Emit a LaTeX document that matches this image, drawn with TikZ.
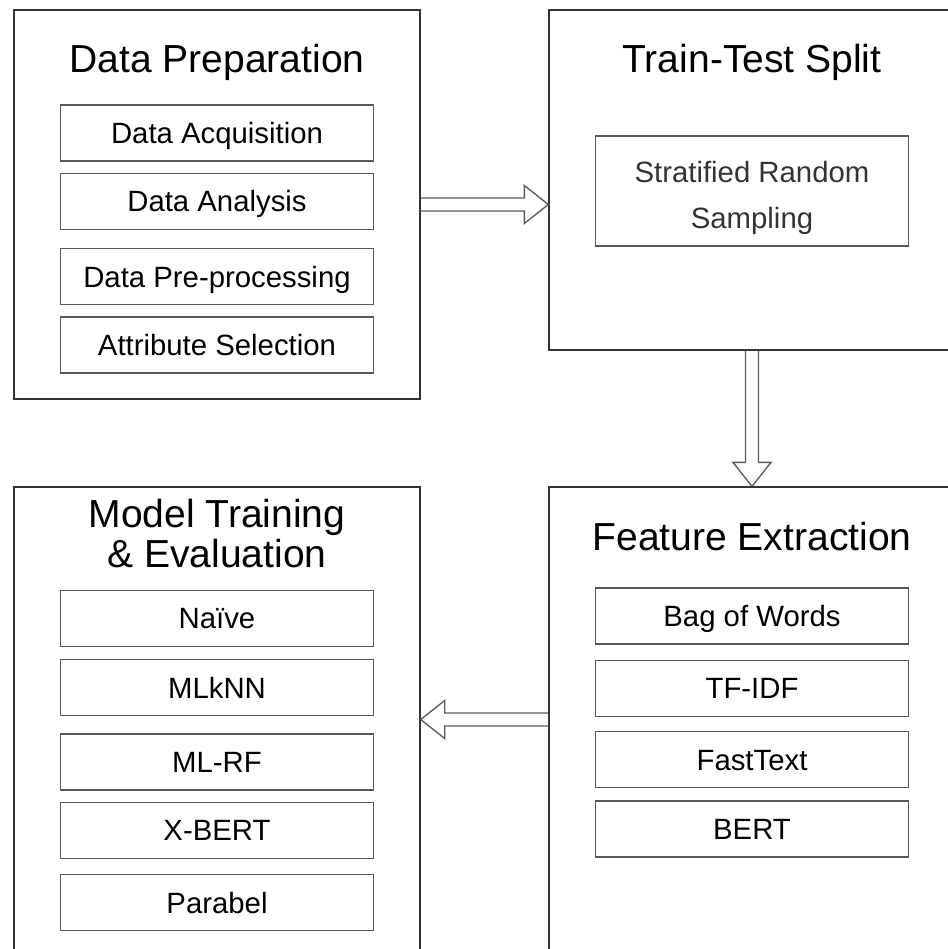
\documentclass[tikz,border=0pt]{standalone}
\usepackage{fontspec}
\setmainfont{Liberation Sans}
\usetikzlibrary{positioning,calc}
\definecolor{boxline}{RGB}{51,51,51}
\definecolor{itemline}{RGB}{90,90,90}
\definecolor{softtext}{RGB}{51,51,51}

\begin{document}
\begin{tikzpicture}[x=0.75pt, y=-0.75pt,
  stage/.style={draw=boxline, line width=1pt, minimum width=304.5pt, inner sep=0pt},
  stagetitle/.style={font=\fontsize{29.3}{30}\selectfont, inner sep=0pt, align=center},
  item/.style={draw=itemline, line width=1pt, minimum width=235pt, minimum height=42pt, text height=15.75pt, text depth=0pt, font=\fontsize{22}{25}\selectfont},
  hollow/.style={draw=itemline, line width=1pt, line join=miter}]
\useasboundingbox (0,0) rectangle (948,949);
\clip (0,0) rectangle (948,949);

\node[stage, minimum height=291.75pt] (prep) at (217,204.5) {};
\node[stagetitle, anchor=base] (prepTitle) at ($(prep.north)+(0,63)$) {Data Preparation};
\node[item, below=24pt of prepTitle.base] (acq) {Data Acquisition};
\node[item, below=8.25pt of acq] (ana) {Data Analysis};
\node[item, below=13.5pt of ana] (pre) {Data Pre-processing};
\node[item, below=8.25pt of pre] (attr) {Attribute Selection};

\node[stage, minimum height=255pt] (split) at (752,180) {};
\node[stagetitle, anchor=base] (splitTitle) at ($(split.north)+(0,63)$) {Train-Test Split};
\node[item, minimum height=82.5pt, text height=56.5pt, text depth=0pt, text=softtext, align=center, font=\fontsize{22}{35}\selectfont, below=47.25pt of splitTitle.base] (strat) {Stratified Random\\Sampling};

\node[stage, minimum height=348.75pt] (feat) at (752,719.5) {};
\node[stagetitle, anchor=base] (featTitle) at ($(feat.north)+(0,64)$) {Feature Extraction};
\node[item, below=27.75pt of featTitle.base] (bow) {Bag of Words};
\node[item, below=11.25pt of bow] (tfidf) {TF-IDF};
\node[item, below=10.5pt of tfidf] (fasttext) {FastText};
\node[item, below=9pt of fasttext] (bert) {BERT};

\node[stage, minimum height=348.75pt] (model) at (217,719.5) {};
\node[stagetitle, anchor=north] (modelTitle) at ($(model.north)+(0,13)$) {Model Training\\\& Evaluation};
\node[item, below=15.75pt of modelTitle] (naive) {Naïve};
\node[item, below=9pt of naive] (mlknn) {MLkNN};
\node[item, below=12.75pt of mlknn] (mlrf) {ML-RF};
\node[item, below=8.25pt of mlrf] (xbert) {X-BERT};
\node[item, below=11.25pt of xbert] (parabel) {Parabel};

\draw[hollow] ($(prep.east)+(0,-6.5)$) -- ($(split.west |- prep.east)+(-24,-6.5)$) -- ++(0,-12.5) -- (split.west |- prep.east) -- ++(-24,19) -- ++(0,-12.5) -- ($(prep.east)+(0,6.5)$);
\draw[hollow] ($(split.south)+(-6.5,0)$) -- ($(feat.north)+(-6.5,-24)$) -- ++(-12.5,0) -- (feat.north) -- ++(19,-24) -- ++(-12.5,0) -- ($(split.south)+(6.5,0)$);
\draw[hollow] ($(feat.west)+(0,-6.5)$) -- ($(model.east)+(24,-6.5)$) -- ++(0,-12.5) -- (model.east) -- ++(24,19) -- ++(0,-12.5) -- ($(feat.west)+(0,6.5)$);
\end{tikzpicture}
\end{document}
